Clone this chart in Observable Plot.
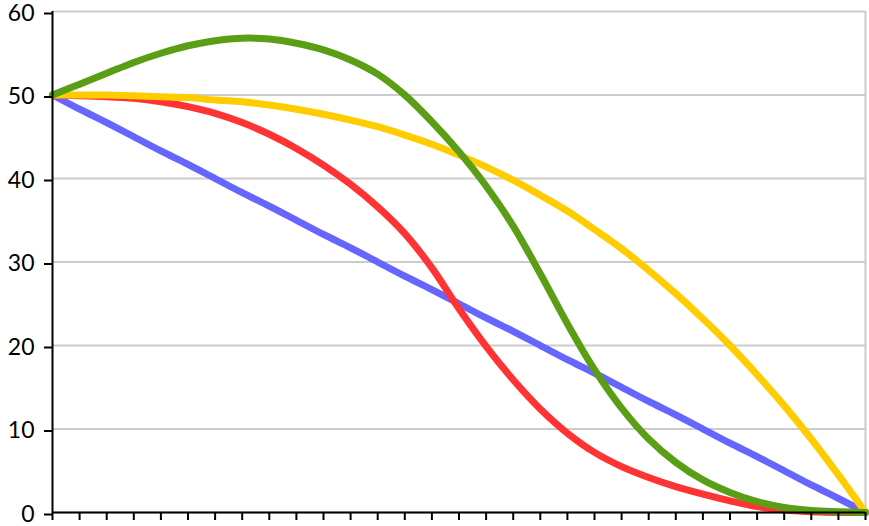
<!DOCTYPE html>
<html>
<head>
<meta charset="utf-8">
<script src="https://cdn.jsdelivr.net/npm/d3@7"></script>
<script src="https://cdn.jsdelivr.net/npm/@observablehq/plot@0.6"></script>
<style>
  html, body { margin: 0; padding: 0; background: #fff; }
  #chart svg { display: block; overflow: visible; }
</style>
</head>
<body>
<div id="chart"></div>
<script>
const xs = [0,1,2,3,4,5,6,7,8,9,10,11,12,13,14,15,16,17,18,19,20,21,22,23,24,25,26,27,28,29,30];
const blue = [50,48.3,46.7,45,43.3,41.7,40,38.3,36.7,35,33.3,31.7,30,28.3,26.7,25,23.3,21.7,20,18.3,16.7,15,13.3,11.7,10,8.3,6.7,5,3.3,1.7,0];
const red = [50,49.9,49.8,49.6,49.2,48.6,47.8,46.7,45.3,43.6,41.6,39.3,36.6,33.4,29.3,24.4,19.9,15.9,12.4,9.5,7.2,5.5,4.2,3.1,2.2,1.4,0.7,0.3,0.1,0,0];
const yellow = [50,50,50,49.9,49.8,49.7,49.4,49.2,48.8,48.3,47.7,47.0,46.2,45.2,44.1,42.8,41.4,39.8,38.0,36.1,33.9,31.6,29.0,26.2,23.2,20.0,16.5,12.8,8.8,4.5,0];
const green = [50,51.3,52.6,53.9,55.0,55.9,56.5,56.8,56.7,56.2,55.4,54.2,52.5,50.0,46.8,43.2,39.1,34.3,28.6,22.6,17.1,12.5,8.8,6.0,3.9,2.4,1.3,0.6,0.25,0.1,0];
const yTicks = [0,10,20,30,40,50,60];

const seriesList = [
  {values: blue, color: "#6666FF"},
  {values: red, color: "#FF3333"},
  {values: yellow, color: "#FFCC00"},
  {values: green, color: "#5A9E16"}
];

const lines = seriesList.map(s =>
  Plot.line(xs.map((x, i) => ({x, y: s.values[i]})), {
    x: "x", y: "y", stroke: s.color, strokeWidth: 7, curve: "catmull-rom"
  })
);

const chart = Plot.plot({
  width: 869,
  height: 526,
  marginLeft: 52,
  marginRight: 4,
  marginTop: 11,
  marginBottom: 14,
  style: {fontFamily: "Lato, sans-serif", fontSize: "23px", color: "#000", background: "#fff"},
  x: {domain: [0, 30]},
  y: {domain: [0, 60]},
  marks: [
    Plot.gridY(yTicks, {stroke: "#cccccc", strokeOpacity: 1, strokeWidth: 2}),
    Plot.ruleX([30], {stroke: "#cccccc", strokeWidth: 2}),
    ...lines,
    Plot.ruleX([0], {stroke: "#000", strokeWidth: 2}),
    Plot.ruleY([0], {stroke: "#000", strokeWidth: 2}),
    Plot.axisY(yTicks, {tickSize: 8, tickPadding: 10, strokeWidth: 2, fontSize: 23, dy: 2, label: null}),
    Plot.axisX(xs, {tickSize: 8, strokeWidth: 2, tickFormat: () => "", label: null})
  ]
});
document.getElementById("chart").appendChild(chart);
</script>
</body>
</html>
